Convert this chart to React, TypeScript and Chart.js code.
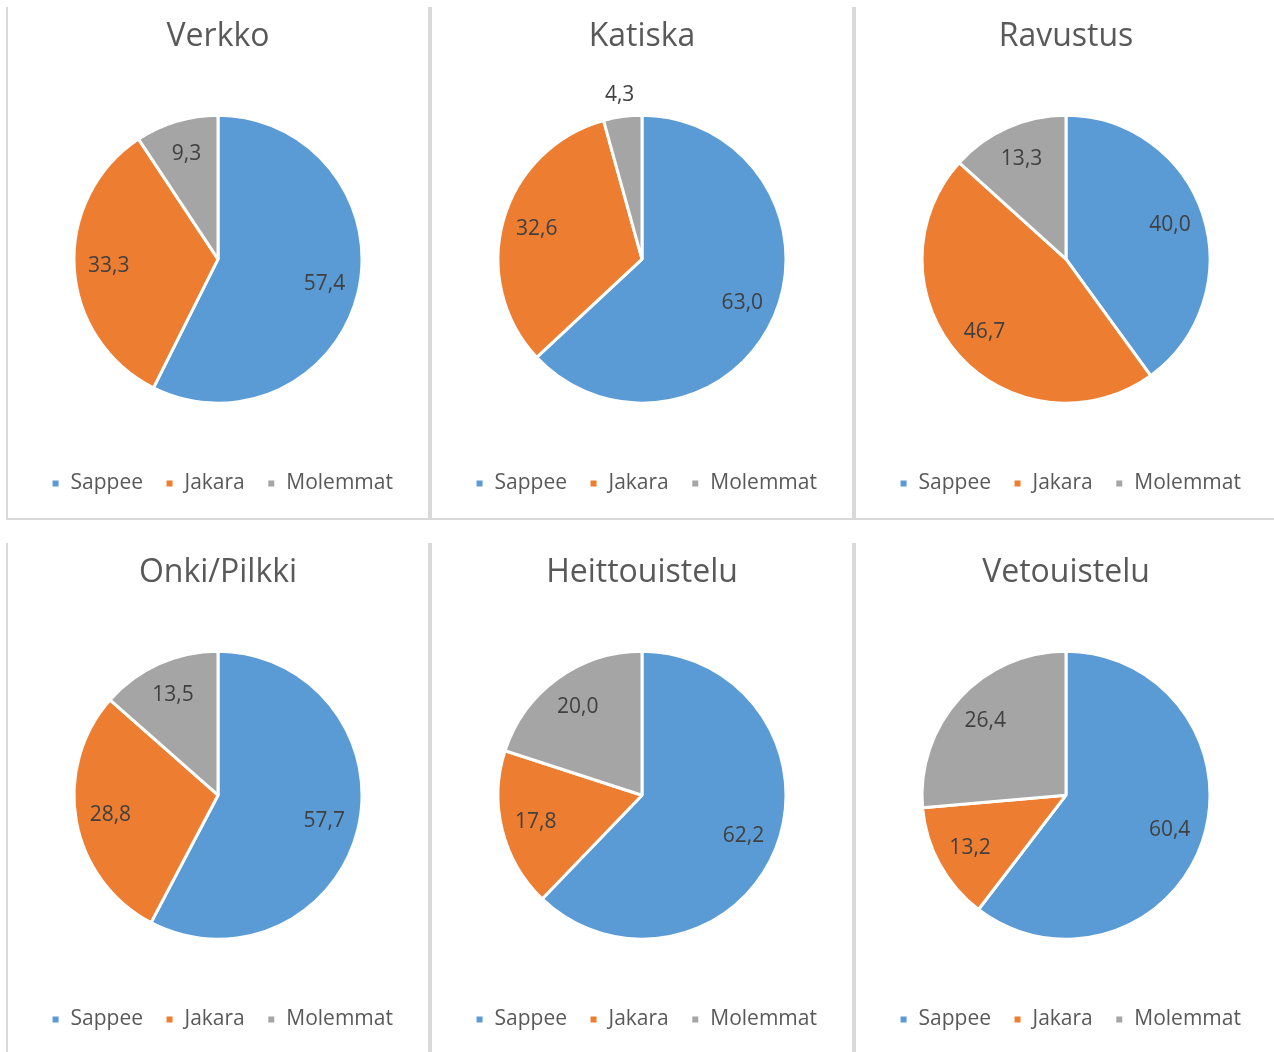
import React, { useEffect, useRef } from 'react';
import { Chart, registerables } from 'chart.js';

Chart.register(...registerables);

const categories = ['Sappee', 'Jakara', 'Molemmat'];
const sliceColors = ['#5B9BD5', '#ED7D31', '#A5A5A5'];

const verkko = [57.4, 33.3, 9.3];
const katiska = [63.0, 32.6, 4.3];
const ravustus = [40.0, 46.7, 13.3];
const onkiPilkki = [57.7, 28.8, 13.5];
const heittouistelu = [62.2, 17.8, 20.0];
const vetouistelu = [60.4, 13.2, 26.4];

const titles = ['Verkko', 'Katiska', 'Ravustus', 'Onki/Pilkki', 'Heittouistelu', 'Vetouistelu'];
const seriesList = [verkko, katiska, ravustus, onkiPilkki, heittouistelu, vetouistelu];

const FONT = '"Open Sans", Lato, "DejaVu Sans", sans-serif';

const sliceLabels = {
  id: 'sliceLabels',
  afterDatasetsDraw(chart: any) {
    const ctx = chart.ctx;
    const meta = chart.getDatasetMeta(0);
    const data = chart.data.datasets[0].data as number[];
    ctx.save();
    ctx.font = `21px ${FONT}`;
    ctx.fillStyle = '#404040';
    ctx.textAlign = 'center';
    ctx.textBaseline = 'middle';
    meta.data.forEach((arc: any, i: number) => {
      const p = arc.getProps(['x', 'y', 'startAngle', 'endAngle', 'outerRadius'], true);
      const mid = (p.startAngle + p.endAngle) / 2;
      const v = data[i];
      const d = v < 5 ? p.outerRadius + 22 : p.outerRadius * 0.76;
      ctx.fillText(v.toFixed(1).replace('.', ','), p.x + Math.cos(mid) * d, p.y + Math.sin(mid) * d);
    });
    ctx.restore();
  },
};

const legendNudge = {
  id: 'legendNudge',
  afterLayout(chart: any) {
    if (chart.legend) {
      chart.legend.left += 4;
      chart.legend.right += 4;
    }
  },
};

function PiePanel({ title, values, left, top, width, height, noRight, noBottom }: any) {
  const ref = useRef<HTMLCanvasElement | null>(null);
  useEffect(() => {
    if (!ref.current) return;
    const chart = new Chart(ref.current, {
      type: 'pie',
      data: {
        labels: categories,
        datasets: [
          {
            data: values,
            backgroundColor: sliceColors,
            borderColor: '#ffffff',
            borderWidth: 3,
            radius: 144,
          } as any,
        ],
      },
      options: {
        responsive: false,
        animation: false,
        layout: { padding: { bottom: 14 } },
        plugins: {
          title: {
            display: true,
            text: title,
            color: '#595959',
            font: { family: FONT, size: 32, weight: 'normal' as any },
            padding: { top: 11, bottom: 11 },
          },
          legend: {
            position: 'bottom',
            labels: {
              boxWidth: 9,
              boxHeight: 9,
              padding: 22,
              color: '#595959',
              font: { family: FONT, size: 21 },
            },
          },
          tooltip: { enabled: false },
        },
      },
      plugins: [sliceLabels, legendNudge],
    });
    return () => chart.destroy();
  }, [title, values]);

  const border = '2px solid #d9d9d9';
  return (
    <div
      style={{
        position: 'absolute',
        left,
        top,
        width,
        height,
        boxSizing: 'border-box',
        borderLeft: border,
        borderRight: noRight ? 'none' : border,
        borderBottom: noBottom ? 'none' : border,
        overflow: 'hidden',
        background: '#ffffff',
      }}
    >
      <canvas ref={ref} width={420} height={511} style={{ display: 'block', width: 420, height: 511 }} />
    </div>
  );
}

export default function App() {
  const colLefts = [6, 430, 854];
  const rowTops = [7, 543];
  return (
    <div>
      {titles.map((t, i) => {
        const r = Math.floor(i / 3);
        const c = i % 3;
        return (
          <PiePanel
            key={t}
            title={t}
            values={seriesList[i]}
            left={colLefts[c]}
            top={rowTops[r]}
            width={c === 2 ? 420 : 424}
            height={r === 1 ? 509 : 513}
            noRight={c === 2}
            noBottom={r === 1}
          />
        );
      })}
    </div>
  );
}
